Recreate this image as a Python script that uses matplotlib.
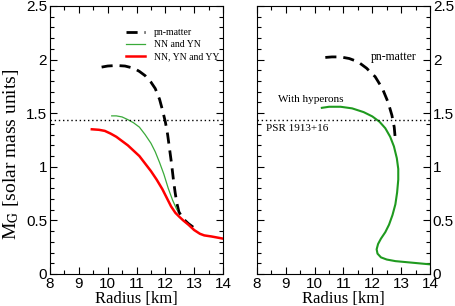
import matplotlib

matplotlib.use("Agg")
import matplotlib.pyplot as plt
from matplotlib.ticker import MultipleLocator

# left panel: mass-radius curves (radius km, mass in solar masses)
pn_left_r = [9.79, 10.0, 10.3, 10.6, 10.9, 11.1, 11.3, 11.5, 11.65, 11.8, 11.9, 12.0,
             12.08, 12.15, 12.22, 12.28, 12.34, 12.40, 12.47, 12.6, 12.8, 13.0, 13.15]
pn_left_m = [1.93, 1.94, 1.945, 1.94, 1.92, 1.89, 1.85, 1.79, 1.73, 1.63, 1.53, 1.42,
             1.30, 1.16, 1.02, 0.88, 0.76, 0.66, 0.58, 0.52, 0.47, 0.43, 0.40]

nnyn_r = [10.14, 10.3, 10.5, 10.7, 10.9, 11.1, 11.3, 11.5, 11.65, 11.8, 11.95, 12.1, 12.25, 12.4]
nnyn_m = [1.475, 1.475, 1.465, 1.44, 1.41, 1.37, 1.30, 1.22, 1.14, 1.04, 0.93, 0.80, 0.69, 0.60]

nnynyy_r = [9.45, 9.7, 9.9, 10.1, 10.3, 10.5, 10.7, 10.9, 11.1, 11.3, 11.5, 11.7, 11.9,
            12.05, 12.2, 12.35, 12.5, 12.62, 12.8, 13.0, 13.2, 13.35, 13.6, 13.8, 14.0]
nnynyy_m = [1.35, 1.345, 1.335, 1.31, 1.28, 1.24, 1.20, 1.15, 1.10, 1.03, 0.96, 0.88, 0.79,
            0.71, 0.63, 0.57, 0.53, 0.50, 0.46, 0.41, 0.375, 0.36, 0.35, 0.34, 0.33]

# right panel
pn_right_r = [10.37, 10.6, 10.9, 11.2, 11.5, 11.8, 12.1, 12.35, 12.55, 12.68, 12.76, 12.8]
pn_right_m = [2.02, 2.025, 2.025, 2.01, 1.98, 1.92, 1.84, 1.73, 1.60, 1.48, 1.37, 1.25]

hyp_r = [10.25, 10.5, 10.9, 11.3, 11.7, 12.0, 12.25, 12.45, 12.62, 12.75, 12.85, 12.9, 12.9,
         12.86, 12.80, 12.70, 12.58, 12.45, 12.3, 12.2, 12.15, 12.18, 12.3, 12.5, 12.8,
         13.2, 13.6, 14.0]
hyp_m = [1.55, 1.56, 1.56, 1.545, 1.51, 1.47, 1.42, 1.36, 1.28, 1.19, 1.08, 0.98, 0.88,
         0.76, 0.65, 0.55, 0.46, 0.39, 0.33, 0.28, 0.23, 0.19, 0.155, 0.135, 0.12,
         0.11, 0.10, 0.09]

psr_mass = 1.44

SERIF = "Liberation Serif"
SANS = "Liberation Sans"
plt.rcParams["mathtext.fontset"] = "stix"
plt.rcParams["font.family"] = SANS

GREEN = "#1f9a1f"


def style_axes(ax, label_side):
    ax.set_xlim(8, 14)
    ax.set_ylim(0, 2.5)
    ax.xaxis.set_major_locator(MultipleLocator(1))
    ax.xaxis.set_minor_locator(MultipleLocator(0.5))
    ax.yaxis.set_major_locator(MultipleLocator(0.5))
    ax.yaxis.set_minor_locator(MultipleLocator(0.1))
    ax.tick_params(which="both", direction="in", top=True, right=True, left=True,
                   labelsize=11, width=0.8, pad=2)
    ax.tick_params(which="major", length=5)
    ax.tick_params(which="minor", length=3)
    if label_side == "right":
        ax.tick_params(axis="y", labelleft=False, labelright=True)
    ax.set_yticks([0, 0.5, 1, 1.5, 2, 2.5])
    ax.set_yticklabels(["0", "0.5", "1", "1.5", "2", "2.5"])
    ax.set_xlabel("Radius [km]", family=SERIF, fontsize=12, labelpad=0)
    for sp in ax.spines.values():
        sp.set_linewidth(0.8)


fig = plt.figure(figsize=(4.55, 3.06), dpi=100)
ax1 = fig.add_axes([0.1099, 0.1046, 0.3802, 0.8758])
ax2 = fig.add_axes([0.5648, 0.1046, 0.3802, 0.8758])

# left panel
ax1.plot(pn_left_r, pn_left_m, color="black", lw=2.0, ls=(0, (4, 2.5)), label="pn-matter")
ax1.plot(nnyn_r, nnyn_m, color="#3aaa3a", lw=0.9, label="NN and YN")
ax1.plot(nnynyy_r, nnynyy_m, color="red", lw=1.8, label="NN, YN and YY")
ax1.axhline(psr_mass, color="black", lw=1.0, ls=(0, (1, 2)))
style_axes(ax1, "left")
ax1.set_ylabel(r"M$_{\mathrm{G}}$ [solar mass units]", family=SERIF, fontsize=14)
ax1.yaxis.set_label_coords(-0.165, 0.445)
ax1.legend(loc="upper right", bbox_to_anchor=(1.01, 0.94), frameon=False,
           prop={"family": SERIF, "size": 7}, handlelength=1.9, labelspacing=0.35,
           handletextpad=0.9, borderaxespad=0.2)

# right panel
ax2.plot(pn_right_r, pn_right_m, color="black", lw=2.0, ls=(0, (4, 2.5)))
ax2.plot(hyp_r, hyp_m, color=GREEN, lw=1.5)
ax2.axhline(psr_mass, color="black", lw=1.0, ls=(0, (1, 2)))
ax2.text(11.94, 2.02, "pn-matter", family=SERIF, fontsize=8.5, va="center", ha="left")
ax2.text(8.73, 1.63, "With hyperons", family=SERIF, fontsize=8, va="center", ha="left")
ax2.text(8.31, 1.36, "PSR 1913+16", family=SERIF, fontsize=8, va="center", ha="left")
style_axes(ax2, "right")

fig.savefig("out.png", dpi=100)
